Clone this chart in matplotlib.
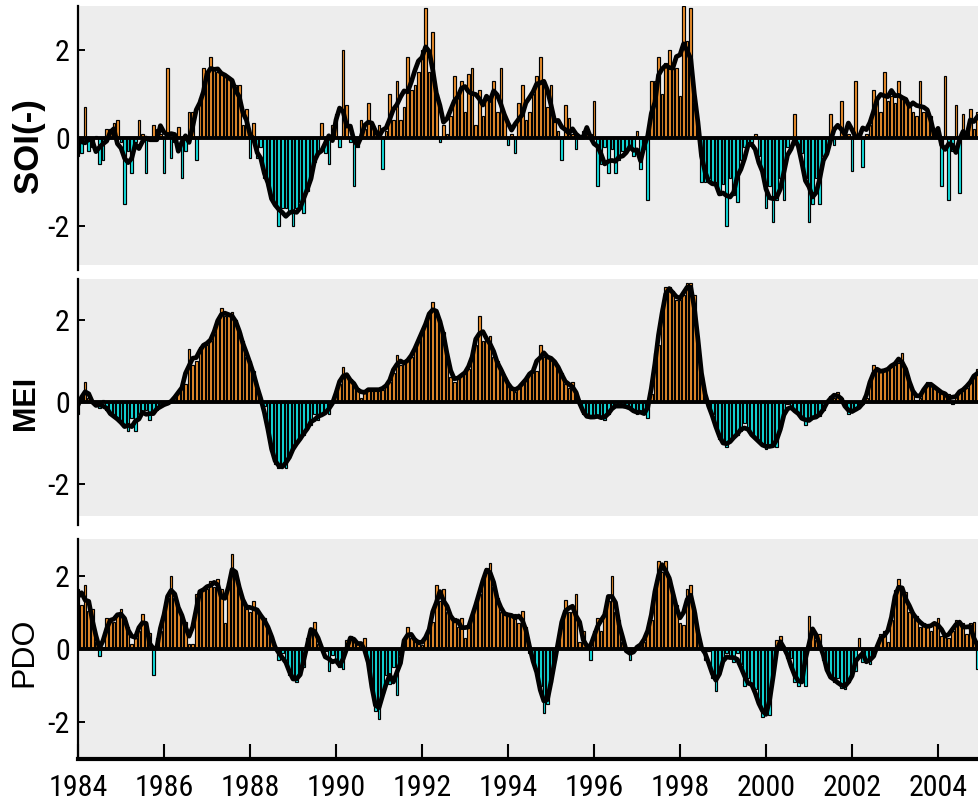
import numpy as np
import pandas as pd
import matplotlib
matplotlib.use("Agg")
import matplotlib.pyplot as plt
from matplotlib import font_manager
from matplotlib.font_manager import FontProperties
from matplotlib.textpath import TextPath

# ---------------- data (monthly, Jan 1984 - Dec 2004) ----------------
start_year = 1984
soi_neg_rows = [
    [-0.4, -0.35, 0.7, -0.3, -0.2, 0.05, -0.6, -0.5, 0.2, 0.2, 0.35, 0.4],      # 1984
    [-0.1, -1.5, -0.3, -0.8, -0.1, 0.4, 0.1, -0.8, 0.0, 0.3, 0.2, 0.1],         # 1985
    [-0.8, 1.6, -0.45, -0.1, 0.25, -0.9, -0.3, 0.6, 0.6, -0.5, 0.9, 1.6],       # 1986
    [1.4, 1.85, 1.55, 1.5, 1.5, 1.45, 1.35, 1.35, 1.2, 1.2, 0.3, 0.65],         # 1987
    [-0.45, 0.35, -0.45, -0.2, -0.9, -1.1, -1.35, -1.55, -2.0, -1.6, -1.6, -1.7],  # 1988
    [-2.0, -1.6, -1.45, -1.7, -1.2, -0.9, -0.55, -0.3, 0.35, -0.35, -0.6, 0.3],   # 1989
    [0.55, -0.2, 2.0, 0.75, -0.1, -1.1, -0.2, 0.4, 0.2, 0.8, 0.25, 0.15],       # 1990
    [0.3, -0.7, 0.15, 1.0, 0.4, 1.3, 0.4, 0.7, 1.85, 1.1, 1.2, 1.5],            # 1991
    [2.0, 2.95, 1.5, 2.4, 1.0, -0.1, 0.3, 0.1, 0.5, 1.4, 0.9, 1.3],             # 1992
    [0.6, 1.45, 1.6, 0.3, 1.1, 0.5, 0.95, 0.9, 1.3, 0.6, 1.6, 0.5],             # 1993
    [-0.15, 0.1, -0.35, 0.8, 1.2, 0.4, 0.6, 1.0, 1.4, 1.85, 1.3, 0.7],          # 1994
    [1.2, 0.4, 0.15, -0.5, 0.75, 0.45, 0.1, -0.25, 0.0, 0.15, 0.1, 0.1],        # 1995
    [0.85, -1.1, -0.6, -0.2, -0.8, -0.25, -0.8, -0.5, -0.3, -0.3, -0.15, -0.4], # 1996
    [0.15, -0.7, -0.25, -1.4, 1.3, 1.3, 1.85, 1.0, 1.7, 2.0, 1.7, 1.6],         # 1997
    [0.95, 3.0, 2.2, 2.95, 0.8, 0.05, -1.0, -1.0, -0.9, -1.0, -1.0, -1.3],      # 1998
    [-1.05, -2.0, -0.9, -1.3, -1.45, -0.5, -0.2, -0.1, -0.1, 0.1, -0.4, -0.8],  # 1999
    [-1.6, -1.1, -1.9, -1.4, -0.9, -1.4, -0.2, 0.0, 0.55, -0.2, -0.35, -0.9],   # 2000
    [-1.9, -1.5, -0.9, -1.5, -0.4, -0.3, 0.55, -0.15, 0.0, 0.85, 0.2, 0.1],     # 2001
    [-0.75, 1.3, 0.1, -0.65, 0.1, 0.3, 1.1, 0.9, 0.6, 1.5, 0.85, 0.95],         # 2002
    [0.8, 1.3, 0.9, 0.9, 0.7, 0.6, 0.5, 1.3, 0.6, 0.6, 0.5, 0.2],               # 2003
    [0.1, -1.1, 1.4, -1.4, -0.3, 0.75, -1.25, 0.55, 0.05, 0.65, 0.2, 0.6],      # 2004
]
mei_rows = [
    [-0.3, 0.15, 0.5, 0.1, 0.0, -0.1, -0.15, 0.05, -0.2, -0.3, -0.35, -0.4],    # 1984
    [-0.5, -0.6, -0.7, -0.4, -0.7, -0.3, -0.25, -0.2, -0.45, -0.2, -0.2, -0.1], # 1985
    [-0.05, -0.05, 0.0, 0.1, 0.25, 0.35, 0.45, 1.3, 0.9, 1.0, 1.35, 1.4],       # 1986
    [1.4, 1.5, 1.65, 2.0, 2.3, 2.1, 2.1, 2.2, 2.0, 1.7, 1.5, 1.1],              # 1987
    [1.0, 0.75, 0.3, 0.05, -0.1, -0.7, -1.2, -1.5, -1.6, -1.55, -1.6, -1.3],    # 1988
    [-1.15, -1.0, -0.9, -0.8, -0.6, -0.55, -0.3, -0.45, -0.3, -0.2, -0.3, 0.0], # 1989
    [0.2, 0.45, 0.85, 0.6, 0.55, 0.45, 0.35, 0.1, 0.3, 0.3, 0.3, 0.3],          # 1990
    [0.3, 0.3, 0.4, 0.5, 0.7, 1.15, 0.9, 0.95, 1.0, 1.1, 1.3, 1.5],             # 1991
    [1.7, 1.9, 2.1, 2.45, 2.2, 2.0, 1.7, 1.2, 0.6, 0.5, 0.6, 0.65],             # 1992
    [0.7, 0.8, 1.1, 1.4, 2.1, 1.5, 1.55, 1.6, 1.1, 1.0, 0.8, 0.6],              # 1993
    [0.45, 0.3, 0.25, 0.35, 0.45, 0.55, 0.65, 0.85, 0.75, 1.4, 1.1, 1.1],       # 1994
    [1.1, 1.0, 0.85, 0.7, 0.45, 0.35, 0.5, 0.25, -0.05, -0.3, -0.35, -0.4],     # 1995
    [-0.35, -0.35, -0.35, -0.45, -0.3, -0.1, -0.1, -0.1, -0.1, -0.1, -0.15, -0.2],  # 1996
    [-0.3, -0.25, -0.2, -0.4, 0.2, 1.2, 1.4, 2.3, 2.8, 2.8, 2.7, 2.5],          # 1997
    [2.5, 2.6, 2.9, 2.9, 2.6, 1.4, 0.6, 0.1, -0.1, -0.3, -0.6, -0.9],           # 1998
    [-1.0, -1.1, -0.95, -0.85, -0.8, -0.7, -0.5, -0.7, -0.8, -0.9, -0.95, -1.05],  # 1999
    [-1.15, -1.05, -1.05, -1.1, -0.6, -0.3, -0.05, -0.15, -0.2, -0.3, -0.35, -0.55],  # 2000
    [-0.4, -0.4, -0.35, -0.35, -0.2, 0.0, 0.15, 0.1, 0.25, 0.1, -0.1, -0.3],    # 2001
    [-0.2, -0.2, -0.15, -0.05, 0.1, 0.45, 0.9, 0.75, 0.75, 0.75, 0.8, 0.85],    # 2002
    [1.0, 0.95, 1.2, 0.75, 0.45, 0.3, 0.05, 0.1, 0.3, 0.5, 0.45, 0.35],         # 2003
    [0.3, 0.25, 0.15, 0.2, -0.05, 0.2, 0.25, 0.3, 0.35, 0.5, 0.6, 0.8],         # 2004
]
pdo_rows = [
    [1.65, 1.2, 1.75, 1.05, 1.1, 0.2, -0.2, 0.05, 0.85, 0.75, 0.75, 0.95],      # 1984
    [1.1, 0.8, 0.6, 0.15, 0.3, 0.5, 0.95, 0.7, 0.45, -0.7, 0.3, 0.5],           # 1985
    [0.9, 1.4, 2.0, 1.4, 1.1, 0.9, 0.75, 0.15, 0.15, 1.5, 1.6, 1.6],            # 1986
    [1.65, 1.85, 1.7, 1.9, 1.65, 0.7, 1.8, 2.6, 2.1, 1.6, 1.35, 1.1],           # 1987
    [1.0, 1.3, 1.0, 0.9, 0.85, 0.6, 0.35, 0.1, -0.3, -0.1, -0.3, -0.7],         # 1988
    [-0.85, -0.9, -0.7, -0.5, 0.3, 0.55, 0.75, 0.15, 0.0, -0.05, -0.6, -0.15],  # 1989
    [-0.3, -0.5, -0.55, 0.25, 0.35, 0.3, 0.15, 0.0, 0.3, -0.4, -1.0, -1.7],     # 1990
    [-1.9, -1.2, -0.7, -0.95, -0.5, -1.25, -0.15, 0.25, 0.6, 0.3, 0.3, 0.15],   # 1991
    [0.1, 0.3, 0.55, 0.75, 1.75, 1.3, 1.65, 1.0, 0.85, 0.85, 0.6, 0.85],        # 1992
    [0.3, 0.6, 0.9, 1.2, 1.5, 1.9, 2.2, 2.35, 1.7, 1.4, 1.0, 1.0],              # 1993
    [0.9, 0.9, 0.95, 0.7, 1.05, 0.6, -0.1, -0.3, -0.6, -1.0, -1.75, -1.5],      # 1994
    [-0.9, -0.3, 0.1, 0.75, 1.35, 1.0, 1.0, 1.5, 0.2, 0.5, 0.05, -0.3],         # 1995
    [0.5, 0.85, 0.5, 1.0, 1.3, 2.0, 1.0, 0.8, 0.2, -0.05, -0.3, 0.0],           # 1996
    [0.05, 0.1, 0.2, 0.5, 0.8, 1.5, 2.4, 2.1, 2.4, 1.9, 1.5, 1.2],              # 1997
    [0.7, 0.65, 1.65, 1.75, 1.0, 0.4, 0.0, -0.3, -0.05, -0.8, -1.15, -0.6],     # 1998
    [-0.3, -0.1, -0.25, -0.35, -0.1, -0.4, -1.0, -0.8, -1.0, -1.1, -1.5, -1.85],  # 1999
    [-1.7, -1.8, -0.7, 0.25, 0.35, 0.0, -0.25, -0.25, -0.9, -1.0, -0.7, -1.0],  # 2000
    [0.9, 0.5, 0.25, 0.4, -0.3, -0.6, -0.8, -0.9, -0.8, -1.05, -1.1, -0.9],     # 2001
    [-0.7, -0.6, 0.3, -0.35, -0.3, -0.4, -0.2, 0.0, 0.4, 0.5, 0.2, 0.8],        # 2002
    [1.6, 1.9, 1.55, 1.55, 1.0, 1.0, 0.9, 0.6, 0.7, 0.65, 0.5, 0.75],           # 2003
    [0.85, 0.35, 0.4, 0.3, 0.5, 0.8, 0.7, 0.7, 0.4, 0.7, 0.75, -0.55],          # 2004
]
panel_labels = ["SOI(-)", "MEI", "PDO"]
smooth_windows = [5, 3, 3]
year_ticks = list(range(1984, 2005, 2))
y_ticks = [-2, 0, 2]

# ---------------- style ----------------
W, H = 979, 810
ORANGE = "#F0922E"
CYAN = "#14E4E4"
GRAY = "#EDEDED"


def pick_narrow_font():
    fl = font_manager.fontManager.ttflist
    prefs = ["Liberation Sans Narrow", "Arial Narrow", "Roboto Condensed",
             "Open Sans Condensed", "Noto Sans Condensed"]
    for p in prefs:
        for f in fl:
            if f.name == p and f.style == "normal" and f.weight in (300, 400, "normal", "regular", "light"):
                return f.fname
    for f in fl:
        n = f.name.lower()
        if (("narrow" in n or "condensed" in n or str(f.stretch) in ("condensed", "semi-condensed"))
                and f.style == "normal" and f.weight in (300, 400, "normal", "regular", "light")
                and "mono" not in n and "serif" not in n.replace("sans", "")):
            return f.fname
    return None


nf = pick_narrow_font()
if nf:
    base_prop = FontProperties(fname=nf)
else:
    base_prop = FontProperties(family="Liberation Sans")


def size_for_width(text, target_px, prop):
    p = prop.copy()
    p.set_size(10)
    w = TextPath((0, 0), text, prop=p).get_extents().width  # points at size 10
    return 10 * target_px / (w * 100 / 72)


year_size = min(24, size_for_width("1984", 56, base_prop))
ytick_size = year_size * 1.0
yprop = base_prop.copy()
yprop.set_size(ytick_size)
xprop = base_prop.copy()
xprop.set_size(year_size)

label_fam = ["Liberation Sans", "DejaVu Sans"]

fig = plt.figure(figsize=(W / 100, H / 100), dpi=100, facecolor="white")


def axes_px(x0, y0, x1, y1):
    return fig.add_axes([x0 / W, 1 - y1 / H, (x1 - x0) / W, (y1 - y0) / H])


boxes = [(78, 6, 979, 270), (78, 279, 979, 525), (78, 539, 979, 759)]
gray_lims = [(-2.88, 3.0), (-2.78, 3.0), (-3.0, 3.0)]
label_pos = [(28, 146, "bold", 25), (26, 403, "bold", 22), (24, 652, "normal", 23)]

x_right = 1984 + (979 - 78) / 43.0

for i, rows in enumerate([soi_neg_rows, mei_rows, pdo_rows]):
    vals = np.array([v for r in rows for v in r], dtype=float)
    t = start_year + np.arange(len(vals)) / 12.0
    ax = axes_px(*boxes[i])
    ax.set_facecolor("white")
    ax.axhspan(gray_lims[i][0], gray_lims[i][1], color=GRAY, zorder=0, lw=0)
    colors = np.where(vals >= 0, ORANGE, CYAN)
    ax.bar(t, vals, width=0.72 / 12, color=colors, edgecolor="black",
           linewidth=0.85, zorder=2)
    ax.axhline(0, color="black", lw=2.8, zorder=3)
    sm = pd.Series(vals).rolling(smooth_windows[i], center=True, min_periods=1).mean()
    ax.plot(t, sm.values, color="black", lw=3.4, zorder=4, solid_joinstyle="round")
    ax.set_xlim(1984, x_right)
    ax.set_ylim(-3, 3)
    for s in ["top", "right"]:
        ax.spines[s].set_visible(False)
    ax.spines["left"].set_linewidth(1.6)
    ax.set_yticks(y_ticks)
    ax.set_yticklabels([str(v) for v in y_ticks], fontproperties=yprop)
    ax.tick_params(axis="y", direction="in", length=5, width=1.4, pad=6)
    if i < 2:
        ax.spines["bottom"].set_visible(False)
        ax.set_xticks([])
    else:
        ax.spines["bottom"].set_linewidth(3)
        ax.set_xticks(year_ticks)
        ax.set_xticklabels([str(v) for v in year_ticks], fontproperties=xprop)
        ax.tick_params(axis="x", direction="in", length=11, width=1.5, pad=11)
    lx, ly, wt, fs = label_pos[i]
    fig.text(lx / W, 1 - ly / H, panel_labels[i], rotation=90, ha="center",
             va="center", fontsize=fs, fontweight=wt, family=label_fam)

fig.savefig("out.png", dpi=100, facecolor="white")
